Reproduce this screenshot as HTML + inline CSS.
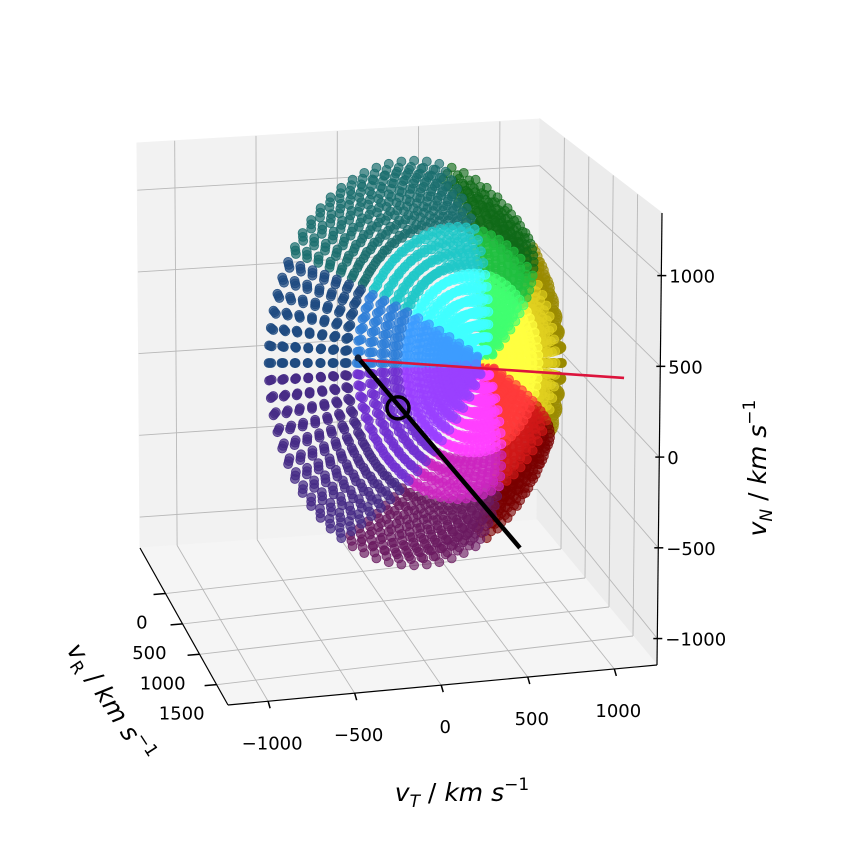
<!DOCTYPE html>
<html><head><meta charset="utf-8"><style>
html,body{margin:0;padding:0;background:#fff}
svg{display:block}
text{font-family:"DejaVu Sans","Liberation Sans",sans-serif;fill:#000}
</style></head><body>
<svg id="chart" width="844" height="844" viewBox="0 0 844 844" xmlns="http://www.w3.org/2000/svg">
<rect width="844" height="844" fill="#fff"/>
<g id="panes"></g>
<g id="grid"></g>
<g id="axes"></g>
<g id="dots"></g>
<g id="lines"></g>
<g id="labels"></g>
<text x="462" y="801" font-size="25" text-anchor="middle"><tspan font-style="italic">v</tspan><tspan font-size="17" dy="6" font-style="italic">T</tspan><tspan dy="-6"> / </tspan><tspan font-style="italic">km s</tspan><tspan font-size="17" dy="-11">−1</tspan></text>
<text transform="translate(766,468) rotate(-90)" font-size="25" text-anchor="middle"><tspan font-style="italic">v</tspan><tspan font-size="17" dy="6" font-style="italic">N</tspan><tspan dy="-6"> / </tspan><tspan font-style="italic">km s</tspan><tspan font-size="17" dy="-11">−1</tspan></text>
<text transform="translate(103,707) rotate(57)" font-size="25" text-anchor="middle"><tspan font-style="italic">v</tspan><tspan font-size="17" dy="6">R</tspan><tspan dy="-6"> / </tspan><tspan font-style="italic">km s</tspan><tspan font-size="17" dy="-11">−1</tspan></text>
</svg>
<script>
const vTTicks=[-1000,-500,0,500,1000];
const vNTicks=[1000,500,0,-500,-1000];
const vRTicks=[0,500,1000,1500];
const ringAngles=[3,6,9,12,15,18,21,24,27,30,33,36,39,42,45,48,51,54];
const spokeCount=72;
const shells=[0.94,0.97,1.0];
const sectorStarts=[-30,45,80,140,185,250,290,330];
const sectorBright=['#ffff40','#40ff70','#40ffff','#3d9cff','#9a40ff','#ff40ff','#ff3a3a','#ffc040'];
const sectorMid=['#e0d020','#20c040','#20c8c8','#2f7fd8','#7030d0','#cc25c0','#d01818','#e0a020'];
const sectorDark=['#9a8a00','#106a18','#1a6e6e','#1e4a80','#452a85','#6a1a60','#7a0000','#9a6a00'];
const shadeLimits=[22,34];
const redLineV=[[0,-86,-69],[0,1447,-305]];
const blackLineV=[[0,-86,-58],[0,847,-1188]];
const markerV=[0,144,-354];

const NS='http://www.w3.org/2000/svg';
function mk(tag,attrs,parent){const e=document.createElementNS(NS,tag);for(const k in attrs)e.setAttribute(k,attrs[k]);parent.appendChild(e);return e;}
const L=(a,b,t)=>[a[0]+(b[0]-a[0])*t,a[1]+(b[1]-a[1])*t];

const LT=[137,143],LTR=[540,119],LBR=[537,520],LB=[140,548];
const RTR=[662,213],RBR=[657,665],FL=[228,705];
const panes=document.getElementById('panes');
let p;
p=mk('polygon',{points:[LT,LTR,LBR,LB].join(' '),fill:'#f2f2f2',stroke:'#f2f2f2'},panes);

p=mk('polygon',{points:[LTR,RTR,RBR,LBR].join(' '),fill:'#ececec',stroke:'#ececec'},panes);

p=mk('polygon',{points:[LB,LBR,RBR,FL].join(' '),fill:'#f5f5f5',stroke:'#f5f5f5'},panes);


const fT=v=>0.497+v/1000*0.4035;
const fN=v=>0.52-v/1000*0.4035;
const fNr=v=>0.54-v/1000*0.4015;
const fRl=v=>0.29+v/1000*0.387;
const fRr=v=>0.2+v/1000*0.4;
const grid=document.getElementById('grid');
function gl(a,b,name){const e=mk('line',{x1:a[0],y1:a[1],x2:b[0],y2:b[1],stroke:'#b8b8b8','stroke-width':0.9},grid);}
vTTicks.forEach(v=>{const t=fT(v);gl(L(LT,LTR,t),L(LB,LBR,t),'grid-vt');gl(L(LB,LBR,t),L(FL,RBR,t),'grid-floor-vt');});
vNTicks.forEach(v=>{gl(L(LT,LB,fN(v)),L(LTR,LBR,fN(v)),'grid-vn');gl(L(LTR,LBR,fN(v)),L(RTR,RBR,fNr(v)),'grid-side-vn');});
vRTicks.forEach(v=>{gl(L(LB,FL,fRl(v)),L(LBR,RBR,fRr(v)),'grid-floor-vr');gl(L(LTR,RTR,fRr(v)),L(LBR,RBR,fRr(v)),'grid-side-vr');});

const axes=document.getElementById('axes');
function al(a,b,name,w){const e=mk('line',{x1:a[0],y1:a[1],x2:b[0],y2:b[1],stroke:'#000','stroke-width':w||1.2},axes);}
al(LB,FL,'vr-axis-line');al(FL,RBR,'vt-axis-line');al(RTR,RBR,'vn-axis-line');
const labels=document.getElementById('labels');
function tl(x,y,s,anchor,name){const e=mk('text',{x:x,y:y,'font-size':18,'text-anchor':anchor},labels);e.textContent=s;}
const fmt=v=>v<0?'−'+(-v):''+v;
vTTicks.forEach(v=>{const q=L(FL,RBR,fT(v));al(q,[q[0]+2,q[1]+7],'vt-tick',1.5);tl(q[0]+4,q[1]+48,fmt(v),'middle','vt-tick-label');});
vNTicks.forEach(v=>{const q=L(RTR,RBR,fNr(v));al([q[0]-4,q[1]],[q[0]+5,q[1]],'vn-tick',1.5);tl(q[0]+8,q[1]+7,fmt(v),'start','vn-tick-label');});
vRTicks.forEach(v=>{const q=L(LB,FL,fRl(v));al([q[0],q[1]],[q[0]-12,q[1]+1],'vr-tick',1.5);tl(q[0]-18+v/1000*4,q[1]+35,fmt(v),'end','vr-tick-label');});

const Cx=312,Cy=363,R=250,beta=44*Math.PI/180;
const dots=document.getElementById('dots');
const pts=[];
ringAngles.forEach(aDeg=>{
  const a=aDeg*Math.PI/180;
  for(let k=0;k<spokeCount;k++){
    const ph=k*2*Math.PI/spokeCount;
    const dx=Math.cos(a)*Math.sin(beta)+Math.sin(a)*Math.cos(ph)*Math.cos(beta);
    const dy=Math.sin(a)*Math.sin(ph);
    const dz=Math.cos(a)*Math.cos(beta)-Math.sin(a)*Math.cos(ph)*Math.sin(beta);
    let th=Math.atan2(Math.sin(ph),Math.cos(ph)*Math.cos(beta))*180/Math.PI;
    if(th<-30)th+=360;
    let si=0;for(let i=0;i<sectorStarts.length;i++)if(th>=sectorStarts[i])si=i;
    const col=aDeg<=shadeLimits[0]?sectorBright[si]:(aDeg<=shadeLimits[1]?sectorMid[si]:sectorDark[si]);
    shells.forEach(s=>pts.push({x:Cx+R*s*dx,y:Cy-R*s*dy,z:dz*s,c:col,op:0.45+0.3*(dz+1)/2}));
  }
});
pts.sort((a,b)=>a.z-b.z);
pts.forEach(q=>{const c=mk('circle',{cx:q.x.toFixed(1),cy:q.y.toFixed(1),r:4.5,fill:q.c,stroke:q.c,'stroke-width':0.8,'fill-opacity':q.op.toFixed(2),'stroke-opacity':Math.min(1,q.op+0.15).toFixed(2)},dots);

});

const proj=v=>[373+0.1735*v[1]+0.034*v[0],346-0.0162*v[1]-0.1815*v[2]+0.058*v[0]];
const lines=document.getElementById('lines');
let a=proj(redLineV[0]),b=proj(redLineV[1]);
let e=mk('line',{x1:a[0],y1:a[1],x2:b[0],y2:b[1],stroke:'#dc143c','stroke-width':2.6},lines);

a=proj(blackLineV[0]);b=proj(blackLineV[1]);
e=mk('line',{x1:a[0],y1:a[1],x2:b[0],y2:b[1],stroke:'#000','stroke-width':4.5},lines);

e=mk('circle',{cx:a[0],cy:a[1],r:3.5,fill:'#10203a'},lines);

const m=proj(markerV);
e=mk('circle',{cx:m[0],cy:m[1],r:11,fill:'none',stroke:'#000','stroke-width':3.5},lines);

</script>
</body></html>
